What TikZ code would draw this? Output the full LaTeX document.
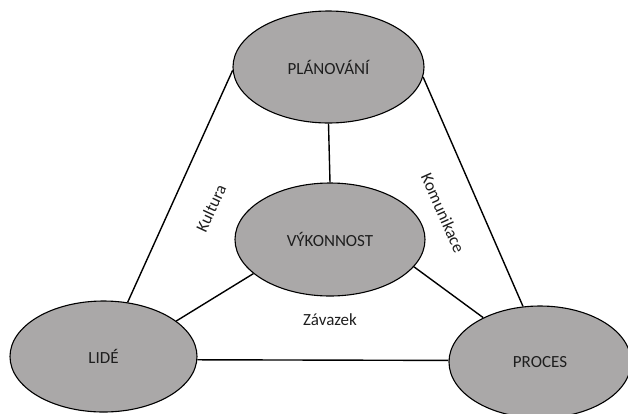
\documentclass[tikz,border=0pt]{standalone}
\usepackage{fontspec}
\setmainfont{Carlito}
\usetikzlibrary{shapes.geometric}
\definecolor{ellfill}{RGB}{170,168,168}
\definecolor{txt}{RGB}{30,30,30}
\begin{document}
\begin{tikzpicture}[x=1pt,y=-1pt,
  bubble/.style={ellipse, draw=black, line width=1.1pt, fill=ellfill, inner sep=0pt,
    font=\fontsize{17}{20}\selectfont, text=txt},
  link/.style={line width=1.4pt},
  lbl/.style={font=\fontsize{17}{20}\selectfont, text=txt, inner sep=0pt}
]
\useasboundingbox (0,0) rectangle (628,413);
\node[bubble, minimum width=191pt, minimum height=112pt] (plan) at (328.5,67) {PLÁNOVÁNÍ};
\node[bubble, minimum width=190pt, minimum height=113pt] (vyk) at (330,239.5) {VÝKONNOST};
\node[bubble, minimum width=187pt, minimum height=111pt] (lide) at (103.5,356.5) {LIDÉ};
\node[bubble, minimum width=182pt, minimum height=112pt] (proc) at (540,362) {PROCES};
\draw[link] (plan.182) -- (lide.66);
\draw[link] (plan.354) -- (proc.107);
\draw[link] (plan.south) -- (vyk.north);
\draw[link] (vyk.204) -- (lide.26);
\draw[link] (vyk.342) -- (proc.142);
\draw[link] (lide.-2) -- (proc.179);
\node[lbl, rotate=65] (kul) at (211,208) {Kultura};
\node[lbl, rotate=-66] (kom) at (443,213) {Komunikace};
\node[lbl] (zav) at (330,320) {Závazek};
\end{tikzpicture}
\end{document}
